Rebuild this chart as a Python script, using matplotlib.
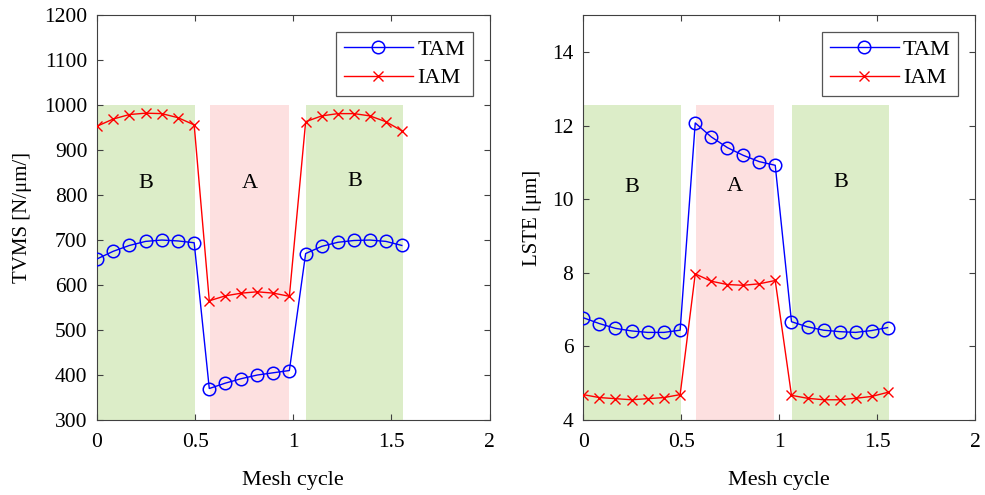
import matplotlib.pyplot as plt

plt.rcParams['font.family'] = ['Liberation Serif', 'DejaVu Serif']

# mesh positions of the three zones (B, A, B)
x_b1 = [0.0, 0.0825, 0.165, 0.2475, 0.33, 0.4125, 0.495]
x_a = [0.572, 0.654, 0.736, 0.817, 0.898, 0.98]
x_b2 = [1.063, 1.145, 1.227, 1.309, 1.39, 1.472, 1.553]

# TVMS [N/um]
tvms_tam_b1 = [658, 675, 688, 697, 700, 698, 694]
tvms_tam_a = [370, 382, 392, 400, 405, 410]
tvms_tam_b2 = [670, 686, 695, 699, 700, 697, 688]
tvms_iam_b1 = [953, 969, 979, 982, 981, 972, 956]
tvms_iam_a = [565, 576, 582, 585, 582, 575]
tvms_iam_b2 = [963, 976, 981, 981, 976, 963, 943]

# LSTE [um]
lste_tam_b1 = [6.78, 6.62, 6.49, 6.42, 6.38, 6.38, 6.44]
lste_tam_a = [12.07, 11.69, 11.40, 11.19, 11.02, 10.92]
lste_tam_b2 = [6.67, 6.53, 6.44, 6.40, 6.38, 6.43, 6.51]
lste_iam_b1 = [4.69, 4.61, 4.58, 4.55, 4.58, 4.61, 4.69]
lste_iam_a = [7.97, 7.77, 7.68, 7.66, 7.70, 7.79]
lste_iam_b2 = [4.67, 4.59, 4.55, 4.55, 4.59, 4.64, 4.75]

zones = [(0.0, 0.5, 'B'), (0.577, 0.976, 'A'), (1.066, 1.561, 'B')]
green = '#dcedc8'
pink = '#fde0e0'

fig = plt.figure(figsize=(9.85, 4.95), dpi=100)
ax1 = fig.add_axes([0.0985, 0.1515, 0.3985, 0.818])
ax2 = fig.add_axes([0.592, 0.1515, 0.398, 0.818])


def draw(ax, tam, iam, ylim, ytop, yticks, ylabel, label_y, ypad):
    for (x0, x1, name), ly in zip(zones, label_y):
        col = pink if name == 'A' else green
        ax.fill_between([x0, x1], ylim[0], ytop, color=col, lw=0, zorder=0)
        ax.text((x0 + x1) / 2, ly, name, ha='center', va='center', fontsize=16)
    xs = x_b1 + x_a + x_b2
    ax.plot(xs, tam, '-o', color='#0000ff', lw=1, ms=9, mfc='none',
            mew=1.1, label='TAM', zorder=3)
    ax.plot(xs, iam, '-x', color='#ff0000', lw=1, ms=7.5, mew=1.0,
            label='IAM', zorder=3)
    ax.set_xlim(0, 2)
    ax.set_ylim(*ylim)
    ax.set_xticks([0, 0.5, 1, 1.5, 2])
    ax.set_xticklabels(['0', '0.5', '1', '1.5', '2'])
    ax.set_yticks(yticks)
    ax.tick_params(direction='in', labelsize=15.5, length=4, color='#404040',
                   top=True, right=True)
    ax.tick_params(axis='x', pad=9)
    ax.tick_params(axis='y', pad=7)
    for sp in ax.spines.values():
        sp.set_color('#404040')
        sp.set_linewidth(0.8)
    ax.set_xlabel('Mesh cycle', fontsize=16, labelpad=14)
    ax.set_ylabel(ylabel, fontsize=15, labelpad=ypad)
    leg = ax.legend(loc='upper right', fontsize=16, handlelength=3.1,
                    fancybox=False, framealpha=1, borderaxespad=0.75,
                    borderpad=0.35, labelspacing=0.35, handletextpad=0.2)
    leg.get_frame().set_edgecolor('#555555')
    leg.get_frame().set_linewidth(0.9)


draw(ax1, tvms_tam_b1 + tvms_tam_a + tvms_tam_b2,
     tvms_iam_b1 + tvms_iam_a + tvms_iam_b2,
     (300, 1200), 1000, range(300, 1201, 100), 'TVMS [N/μm/]',
     [825, 825, 831], 9)
draw(ax2, lste_tam_b1 + lste_tam_a + lste_tam_b2,
     lste_iam_b1 + lste_iam_a + lste_iam_b2,
     (4, 15), 12.55, range(4, 15, 2), 'LSTE [μm]',
     [10.32, 10.35, 10.45], 7)

fig.savefig('out.png', dpi=100)
